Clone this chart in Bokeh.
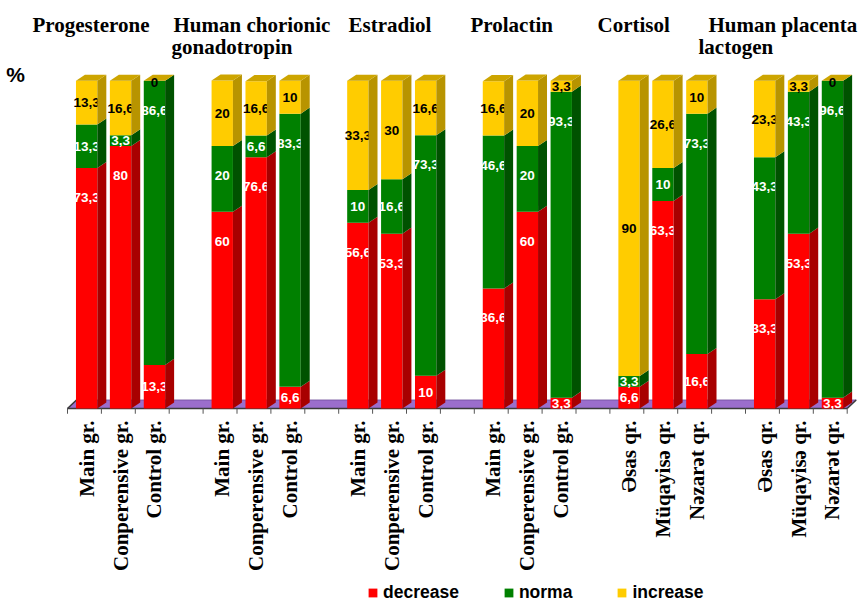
from math import pi

from bokeh.core.properties import value
from bokeh.embed import file_html
from bokeh.models import ColumnDataSource, Legend, LegendItem, Range1d
from bokeh.plotting import figure
from bokeh.resources import INLINE

# ---- data -------------------------------------------------------------
hormones = [
    ["Progesterone"],
    ["Human chorionic", "gonadotropin"],
    ["Estradiol"],
    ["Prolactin"],
    ["Cortisol"],
    ["Human placenta", "lactogen"],
]
groups_en = ["Main gr.", "Conperensive gr.", "Control gr."]
groups_az = ["Əsas qr.", "Müqayisə qr.", "Nəzarət qr."]
group_names = groups_en * 4 + groups_az * 2

series = ["decrease", "norma", "increase"]
decrease = [73.3, 80, 13.3, 60, 76.6, 6.6, 56.6, 53.3, 10, 36.6, 60, 3.3,
            6.6, 63.3, 16.6, 33.3, 53.3, 3.3]
norma = [13.3, 3.3, 86.6, 20, 6.6, 83.3, 10, 16.6, 73.3, 46.6, 20, 93.3,
         3.3, 10, 73.3, 43.3, 43.3, 96.6]
increase = [13.3, 16.6, 0, 20, 16.6, 10, 33.3, 30, 16.6, 16.6, 20, 3.3,
            90, 26.6, 10, 23.3, 3.3, 0]

# ---- styling / layout ------------------------------------------------
W, H = 861, 605
X0_PX, SLOT_PX = 67, 33.9        # left end of the floor, width of one slot
Y0_PX, UNIT_PX = 408, 3.28       # floor line, pixels per percent

front = {"decrease": "#FF0000", "norma": "#008000", "increase": "#FFCC00"}
side = {"decrease": "#A80000", "norma": "#005200", "increase": "#B89400"}
top_col = "#CDA500"
text_col = {"decrease": "white", "norma": "white", "increase": "black"}

DX, DY = 0.265, 1.85            # 3-D depth of the bars (slot units, %)
FLOOR_DY = 2.6
BAR_L, BAR_W = 0.25, 0.63


def px_x(px):
    return (px - X0_PX) / SLOT_PX


def px_y(py):
    return (Y0_PX - py) / UNIT_PX


n = len(decrease)
slots = [4 * (k // 3) + k % 3 for k in range(n)]
centers = [s + BAR_L + BAR_W / 2 for s in slots]
n_slots = 4 * len(hormones) - 1

p = figure(width=W, height=H, output_backend="svg", toolbar_location=None,
           x_range=Range1d(px_x(0), px_x(W)), y_range=Range1d(px_y(H), px_y(0)),
           x_axis_location=None, y_axis_location=None, min_border=0,
           outline_line_color=None, tools="")
p.xgrid.visible = False
p.ygrid.visible = False

# floor of the 3-D chart and its axis
p.patch([0, n_slots, n_slots + DX, DX], [0, 0, FLOOR_DY, FLOOR_DY],
        fill_color="#9B6ECC", line_color="#6E4C99", line_width=0.8)
p.segment(x0=[0, 0, n_slots], y0=[0, 0, 0], x1=[n_slots, DX, n_slots + DX],
          y1=[0, FLOOR_DY, FLOOR_DY], line_color="#3A3A3A", line_width=1.5)
ticks = list(range(n_slots + 1))
p.segment(x0=ticks, y0=[0] * len(ticks), x1=ticks, y1=[-1.6] * len(ticks),
          line_color="#555555", line_width=1)

# front faces
src = ColumnDataSource(dict(x=centers, decrease=decrease, norma=norma,
                            increase=increase))
bars = p.vbar_stack(series, x="x", width=BAR_W, source=src,
                    color=[front[s] for s in series], line_color=None)

# value labels: centred in the segment, pulled up towards the top of tall
# decrease / norma segments; empty segments are labelled at the bar top
labels = {"x": [], "y": [], "text": [], "color": []}
zero = {"x": [], "y": [], "text": []}
side_xs, side_ys, side_c = [], [], []
top_xs, top_ys = [], []
vals = {"decrease": decrease, "norma": norma, "increase": increase}
for k in range(n):
    base = 0.0
    left = slots[k] + BAR_L
    right = left + BAR_W
    for s in series:
        v = vals[s][k]
        t = base + v
        txt = f"{v:g}".replace(".", ",")
        if v > 0:
            mid = (base + t) / 2
            yl = mid if s == "increase" else max(mid, t - 9)
            labels["x"].append(centers[k])
            labels["y"].append(yl)
            labels["text"].append(txt)
            labels["color"].append(text_col[s])
            side_xs.append([right, right + DX, right + DX, right])
            side_ys.append([base, base + DY, t + DY, t])
            side_c.append(side[s])
        else:
            zero["x"].append(centers[k])
            zero["y"].append(t - 0.6)
            zero["text"].append(txt)
        base = t
    top_xs.append([left, left + DX, right + DX, right])
    top_ys.append([base, base + DY, base + DY, base])

label_style = dict(text_align="center", text_baseline="middle",
                   text_font=value("Liberation Sans"), text_font_style="bold",
                   text_font_size=value("13.5px"))
p.text(x=labels["x"], y=labels["y"], text=labels["text"],
       text_color=labels["color"], **label_style)

# depth faces drawn over the labels
p.patches(side_xs, side_ys, fill_color=side_c, line_color=None)
p.patches(top_xs, top_ys, fill_color=top_col, line_color=None)

p.text(x=zero["x"], y=zero["y"], text=zero["text"], text_color="black",
       **label_style)

# group names under each bar
p.text(x=centers, y=[px_y(420)] * n, text=group_names, angle=pi / 2,
       text_align="right", text_baseline="middle", text_color="black",
       text_font=value("Liberation Serif"), text_font_style="bold",
       text_font_size=value("21px"))

# hormone titles
title_x = [[32], [173, 171], [348], [470], [597], [708, 698]]
title_base = [24, 46]
tx, ty, tt = [], [], []
for lines, xs in zip(hormones, title_x):
    for i, (line, x) in enumerate(zip(lines, xs)):
        tx.append(px_x(x))
        ty.append(px_y(title_base[i]))
        tt.append(line)
p.text(x=tx, y=ty, text=tt, text_align="left", text_baseline="alphabetic",
       text_color="black", text_font=value("Liberation Serif"),
       text_font_style="bold", text_font_size=value("21px"))

p.text(x=[px_x(15)], y=[px_y(74)], text=["%"], text_align="center",
       text_baseline="middle", text_color="black",
       text_font=value("Liberation Sans"), text_font_style="bold",
       text_font_size=value("21px"))

legend = Legend(items=[LegendItem(label=s, renderers=[r])
                       for s, r in zip(series, bars)],
                orientation="horizontal", location=(367, 2),
                glyph_width=11, glyph_height=11, label_standoff=5,
                spacing=44, padding=0, margin=0,
                border_line_color=None, background_fill_alpha=0,
                label_text_font="Liberation Sans", label_text_font_style="bold",
                label_text_font_size="17.5px", label_text_color="black")
p.add_layout(legend)

open("out.html", "w").write(file_html(p, INLINE))
